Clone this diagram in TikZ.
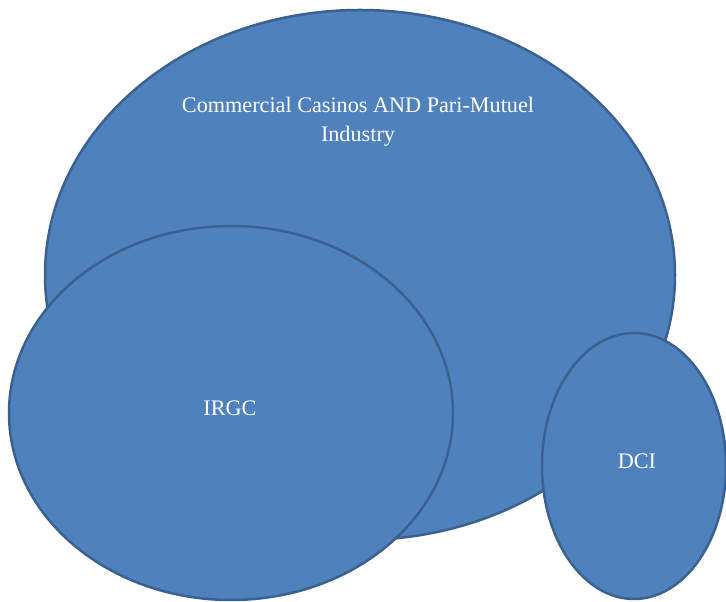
\documentclass[tikz,border=0pt]{standalone}
\usepackage{fontspec}
\setmainfont{Liberation Serif}
\definecolor{fillblue}{HTML}{4F81BD}
\definecolor{edgeblue}{HTML}{3A6190}
\begin{document}
\begin{tikzpicture}[x=1pt,y=1pt,
  blob/.style={draw=edgeblue,fill=fillblue,line width=2.5pt},
  lbl/.style={text=white,font=\fontsize{22.2}{29}\selectfont,align=center}]
\useasboundingbox (0,0) rectangle (726,602);
\draw[blob] (360,327) ellipse [x radius=315, y radius=265];
\draw[blob] (231,189) ellipse [x radius=222, y radius=187];
\draw[blob] (634,136) ellipse [x radius=92, y radius=133];
\node[lbl] (big) at (358,480) {Commercial Casinos AND Pari-Mutuel\\Industry};
\node[lbl] (irgc) at (230,194) {IRGC};
\node[lbl] (dci) at (637,141) {DCI};
\end{tikzpicture}
\end{document}
